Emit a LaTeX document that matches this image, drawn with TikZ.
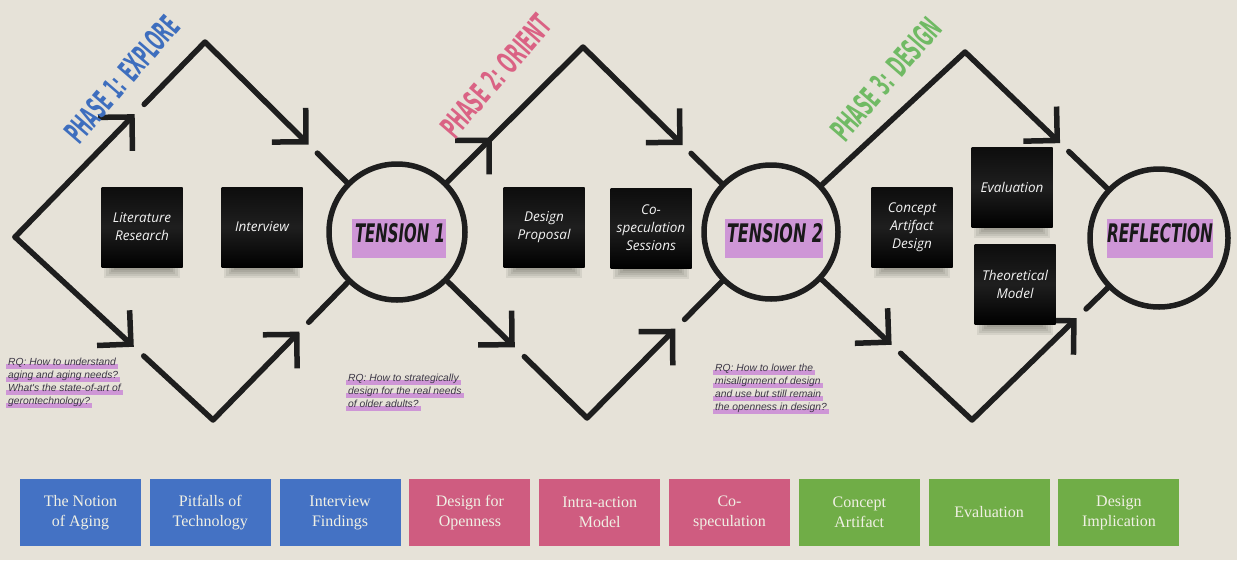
\documentclass[tikz,border=0pt]{standalone}
\usepackage{fontspec}
\setmainfont{Liberation Serif}
\newfontfamily\stickyfont{Open Sans}
\newfontfamily\rqfont{Liberation Sans}
\newfontfamily\heavyfont{DejaVu Sans}
\usetikzlibrary{arrows.meta,calc,backgrounds}
\definecolor{bg}{RGB}{230,226,216}
\definecolor{chalk}{RGB}{30,30,30}
\definecolor{hl}{RGB}{206,150,214}
\definecolor{pblue}{RGB}{68,114,196}
\definecolor{ppink}{RGB}{207,92,128}
\definecolor{pgreen}{RGB}{112,173,71}
\definecolor{tblue}{RGB}{62,110,190}
\definecolor{tpink}{RGB}{218,98,132}
\definecolor{tgreen}{RGB}{112,186,100}
\definecolor{boxtext}{RGB}{240,240,228}
\definecolor{rqtext}{RGB}{60,55,70}
\begin{document}
\begin{tikzpicture}[x=1pt,y=-1pt,
  chalkline/.style={draw=chalk, line width=5.5pt, line cap=round, line join=round},
  arr/.style={chalkline, -{Straight Barb[length=24pt, width=48pt]}},
  ring/.style={circle, draw=chalk, line width=5.5pt, inner sep=0pt},
  sticky/.style={rectangle, minimum width=81pt, minimum height=80pt, top color=black!95,
    bottom color=black, middle color=black!88, text=white!95!black,
    font=\stickyfont\itshape\fontsize{13.5}{18}\selectfont, align=center, inner sep=0pt},
  tensionhl/.style={fill=hl, inner sep=0pt, minimum height=39pt},
  tensiontext/.style={inner sep=0pt, font=\heavyfont\bfseries\itshape, text=black!90},
  phase/.style={inner sep=0pt, font=\heavyfont\bfseries},
  bottombox/.style={minimum width=121pt, minimum height=67pt, inner sep=0pt, text=boxtext,
    font=\fontsize{16}{20}\selectfont, align=center},
  rq/.style={anchor=base west, inner xsep=2pt, inner ysep=0pt, text=rqtext,
    font=\rqfont\itshape\fontsize{10.3}{13}\selectfont},
]
\useasboundingbox (0,0) rectangle (1237,560);
\begin{pgfonlayer}{background}
\fill[bg] (0,0) rectangle (1237,560);
\end{pgfonlayer}

% circles
\node[ring, minimum size=136pt] (t1) at (397,232) {};
\node[ring, minimum size=134pt] (t2) at (771,232) {};
\node[ring, minimum size=138pt] (rf) at (1159,238) {};

\node[tensionhl, minimum width=94pt] (t1h) at (399,238) {};
\node[tensiontext] (t1t) at (400,233) {\resizebox{90pt}{19pt}{TENSION 1}};
\node[tensionhl, minimum width=98pt] (t2h) at (774,238) {};
\node[tensiontext] (t2t) at (775,233.5) {\resizebox{96pt}{19pt}{TENSION 2}};
\node[tensionhl, minimum width=106pt] (rfh) at (1160,238) {};
\node[tensiontext] (rft) at (1160,233.5) {\resizebox{106pt}{19pt}{REFLECTION}};

% path points
\coordinate (S) at (15,237);
\coordinate (P1) at (205,42);
\coordinate (B1) at (213,420);
\coordinate (P2) at (583,47);
\coordinate (B2) at (587,418);
\coordinate (P3) at (965,52);
\coordinate (B3) at (972,420);

% phase 1
\draw[arr] (S) -- ($(S)!0.63!(P1)$);
\draw[arr] ($(S)!0.68!(P1)$) -- (P1) -- ($(P1)!0.54!(t1)$);
\draw[chalkline] ($(P1)!0.585!(t1)$) -- (t1);
\draw[arr] (S) -- ($(S)!0.60!(B1)$);
\draw[arr] ($(S)!0.65!(B1)$) -- (B1) -- ($(B1)!0.47!(t1)$);
\draw[chalkline] ($(B1)!0.52!(t1)$) -- (t1);

% phase 2
\draw[arr] (t1) -- ($(t1)!0.51!(P2)$);
\draw[arr] ($(t1)!0.49!(P2)$) -- (P2) -- ($(P2)!0.53!(t2)$);
\draw[chalkline] ($(P2)!0.575!(t2)$) -- (t2);
\draw[arr] (t1) -- ($(t1)!0.62!(B2)$);
\draw[arr] ($(t1)!0.67!(B2)$) -- (B2) -- ($(B2)!0.48!(t2)$);
\draw[chalkline] ($(B2)!0.53!(t2)$) -- (t2);

% phase 3
\draw[arr] (t2) -- (P3) -- ($(P3)!0.49!(rf)$);
\draw[chalkline] ($(P3)!0.535!(rf)$) -- (rf);
\draw[arr] (t2) -- ($(t2)!0.60!(B3)$);
\draw[arr] ($(t2)!0.645!(B3)$) -- (B3) -- ($(B3)!0.56!(rf)$);
\draw[chalkline] ($(B3)!0.61!(rf)$) -- (rf);

% phase titles
\node[phase, text=tblue, rotate=49] (ph1) at (122,79) {\resizebox{156pt}{23pt}{PHASE 1: EXPLORE}};
\node[phase, text=tpink, rotate=49] (ph2) at (496,76) {\resizebox{150pt}{23pt}{PHASE 2: ORIENT}};
\node[phase, text=tgreen, rotate=49] (ph3) at (886,79) {\resizebox{150pt}{23pt}{PHASE 3: DESIGN}};

% sticky notes
\node[sticky] (lit) at (142,227) {Literature\\Research};
\node[sticky] (int) at (262,227) {Interview};
\node[sticky] (dp) at (544,227) {Design\\Proposal};
\node[sticky] (cs) at (651,228) {Co-\\speculation\\Sessions};
\node[sticky] (cad) at (912,227) {Concept\\Artifact\\Design};
\node[sticky] (ev) at (1012,187) {Evaluation};
\node[sticky] (tm) at (1015,284) {Theoretical\\Model};
\begin{pgfonlayer}{background}
\foreach \n in {lit,int,dp,cs,cad,ev,tm}{
  \foreach \k in {1,...,5}{
    \pgfmathsetmacro{\dd}{13-2*\k}
    \pgfmathsetmacro{\ii}{2.5*\k}
    \fill[black, opacity=0.07]
      ([xshift=\ii pt, yshift=4pt]\n.south west) rectangle ([xshift=-\ii pt, yshift=-\dd pt]\n.south east);
  }
}
\end{pgfonlayer}

% research questions
\node[rq] (r1a) at (6,365) {RQ: How to understand};
\node[rq] (r1b) at (6,378) {aging and aging needs?};
\node[rq] (r1c) at (6,391) {What's the state-of-art of};
\node[rq] (r1d) at (6,404) {gerontechnology?};
\node[rq] (r2a) at (346,381) {RQ: How to strategically};
\node[rq] (r2b) at (346,394) {design for the real needs};
\node[rq] (r2c) at (346,407) {of older adults?};
\node[rq] (r3a) at (713,371) {RQ: How to lower the};
\node[rq] (r3b) at (713,384) {misalignment of design};
\node[rq] (r3c) at (713,397) {and use but still remain};
\node[rq] (r3d) at (713,410) {the openness in design?};
\begin{pgfonlayer}{background}
\foreach \n in {r1a,r1b,r1c,r1d,r2a,r2b,r2c,r3a,r3b,r3c,r3d}{
  \fill[hl] ([yshift=1.5pt]\n.base west) rectangle ([yshift=-4pt]\n.base east);
}
\end{pgfonlayer}

% bottom boxes
\node[bottombox, fill=pblue] (b1) at (80.5,512.5) {The Notion\\of Aging};
\node[bottombox, fill=pblue] (b2) at (210.3,512.5) {Pitfalls of\\Technology};
\node[bottombox, fill=pblue] (b3) at (340.1,512.5) {Interview\\Findings};
\node[bottombox, fill=ppink] (b4) at (469.9,512.5) {Design for\\Openness};
\node[bottombox, fill=ppink] (b5) at (599.7,512.5) {Intra-action\\Model};
\node[bottombox, fill=ppink] (b6) at (729.5,512.5) {Co-\\speculation};
\node[bottombox, fill=pgreen] (b7) at (859.3,512.5) {Concept\\Artifact};
\node[bottombox, fill=pgreen] (b8) at (989.1,512.5) {Evaluation};
\node[bottombox, fill=pgreen] (b9) at (1118.9,512.5) {Design\\Implication};
\end{tikzpicture}
\end{document}
